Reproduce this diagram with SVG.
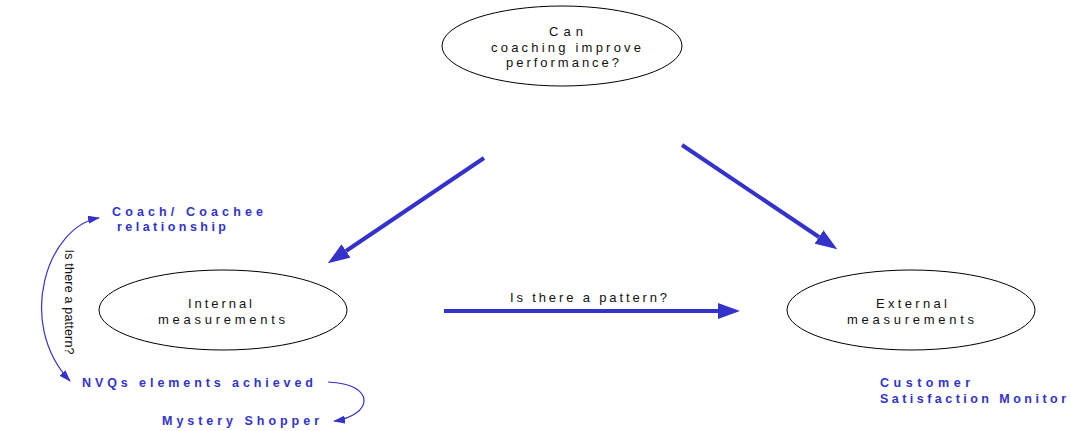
<svg xmlns="http://www.w3.org/2000/svg" width="1071" height="431" viewBox="0 0 1071 431">
<style>
.node ellipse{fill:#fff;stroke:#000;stroke-width:1}
.lbl{font-family:"Liberation Sans",Arial,sans-serif;font-size:13px;fill:#111}
.blue{font-family:"Liberation Sans",Arial,sans-serif;font-size:12.5px;font-weight:bold;fill:#3333cc}
.thick{fill:none;stroke:#3333cc;stroke-width:4}
.thin{fill:none;stroke:#3333cc;stroke-width:1.2}
</style>
<defs>
<marker id="big" markerUnits="userSpaceOnUse" markerWidth="22" markerHeight="16" refX="0" refY="8" orient="auto">
<path d="M0,0 L22,8 L0,16 Z" fill="#3333cc"/>
</marker>
<marker id="small" markerUnits="userSpaceOnUse" markerWidth="12" markerHeight="8" refX="11" refY="4" orient="auto-start-reverse">
<path d="M0,0 L12,4 L0,8 Z" fill="#3333cc"/>
</marker>
</defs>
<rect width="1071" height="431" fill="#fff"/>
<g id="connectors">
<line class="thick" x1="484" y1="158" x2="346" y2="251" marker-end="url(#big)"/>
<line class="thick" x1="682" y1="145" x2="819" y2="237" marker-end="url(#big)"/>
<line class="thick" x1="444" y1="311" x2="718" y2="311" marker-end="url(#big)"/>
<text class="lbl" x="510" y="302" textLength="157" lengthAdjust="spacing">Is there a pattern?</text>
<path class="thin" d="M99,218 C48,226 15,322 70,381" marker-start="url(#small)" marker-end="url(#small)"/>
<text transform="translate(65,302) rotate(90)" font-family="Liberation Sans, Arial, sans-serif" font-size="12.5" fill="#111" text-anchor="middle" textLength="105" lengthAdjust="spacing">Is there a pattern?</text>
<path class="thin" d="M328,382 C378,384 372,416 334,421" marker-end="url(#small)"/>
</g>
<g id="node-question" class="node">
<ellipse cx="562" cy="46" rx="120" ry="40"/>
<text class="lbl" x="549" y="36" textLength="34" lengthAdjust="spacing">Can</text>
<text class="lbl" x="491" y="52" textLength="150" lengthAdjust="spacing">coaching improve</text>
<text class="lbl" x="506" y="67" textLength="113" lengthAdjust="spacing">performance?</text>
</g>
<g id="node-internal" class="node">
<ellipse cx="223" cy="310" rx="124" ry="40"/>
<text class="lbl" x="188" y="308" textLength="64" lengthAdjust="spacing">Internal</text>
<text class="lbl" x="158" y="324" textLength="127" lengthAdjust="spacing">measurements</text>
</g>
<g id="node-external" class="node">
<ellipse cx="911" cy="310" rx="124" ry="40"/>
<text class="lbl" x="876" y="308" textLength="71" lengthAdjust="spacing">External</text>
<text class="lbl" x="847" y="324" textLength="127" lengthAdjust="spacing">measurements</text>
</g>
<g id="node-coach">
<text class="blue" x="112" y="216" textLength="151" lengthAdjust="spacing">Coach/ Coachee</text>
<text class="blue" x="117" y="231" textLength="109" lengthAdjust="spacing">relationship</text>
</g>
<g id="node-nvq">
<text class="blue" x="82" y="387" textLength="231" lengthAdjust="spacing">NVQs elements achieved</text>
</g>
<g id="node-mystery">
<text class="blue" x="162" y="425" textLength="157" lengthAdjust="spacing">Mystery Shopper</text>
</g>
<g id="node-csm">
<text class="blue" x="880" y="387" textLength="90" lengthAdjust="spacing">Customer</text>
<text class="blue" x="880" y="403" textLength="186" lengthAdjust="spacing">Satisfaction Monitor</text>
</g>
</svg>
